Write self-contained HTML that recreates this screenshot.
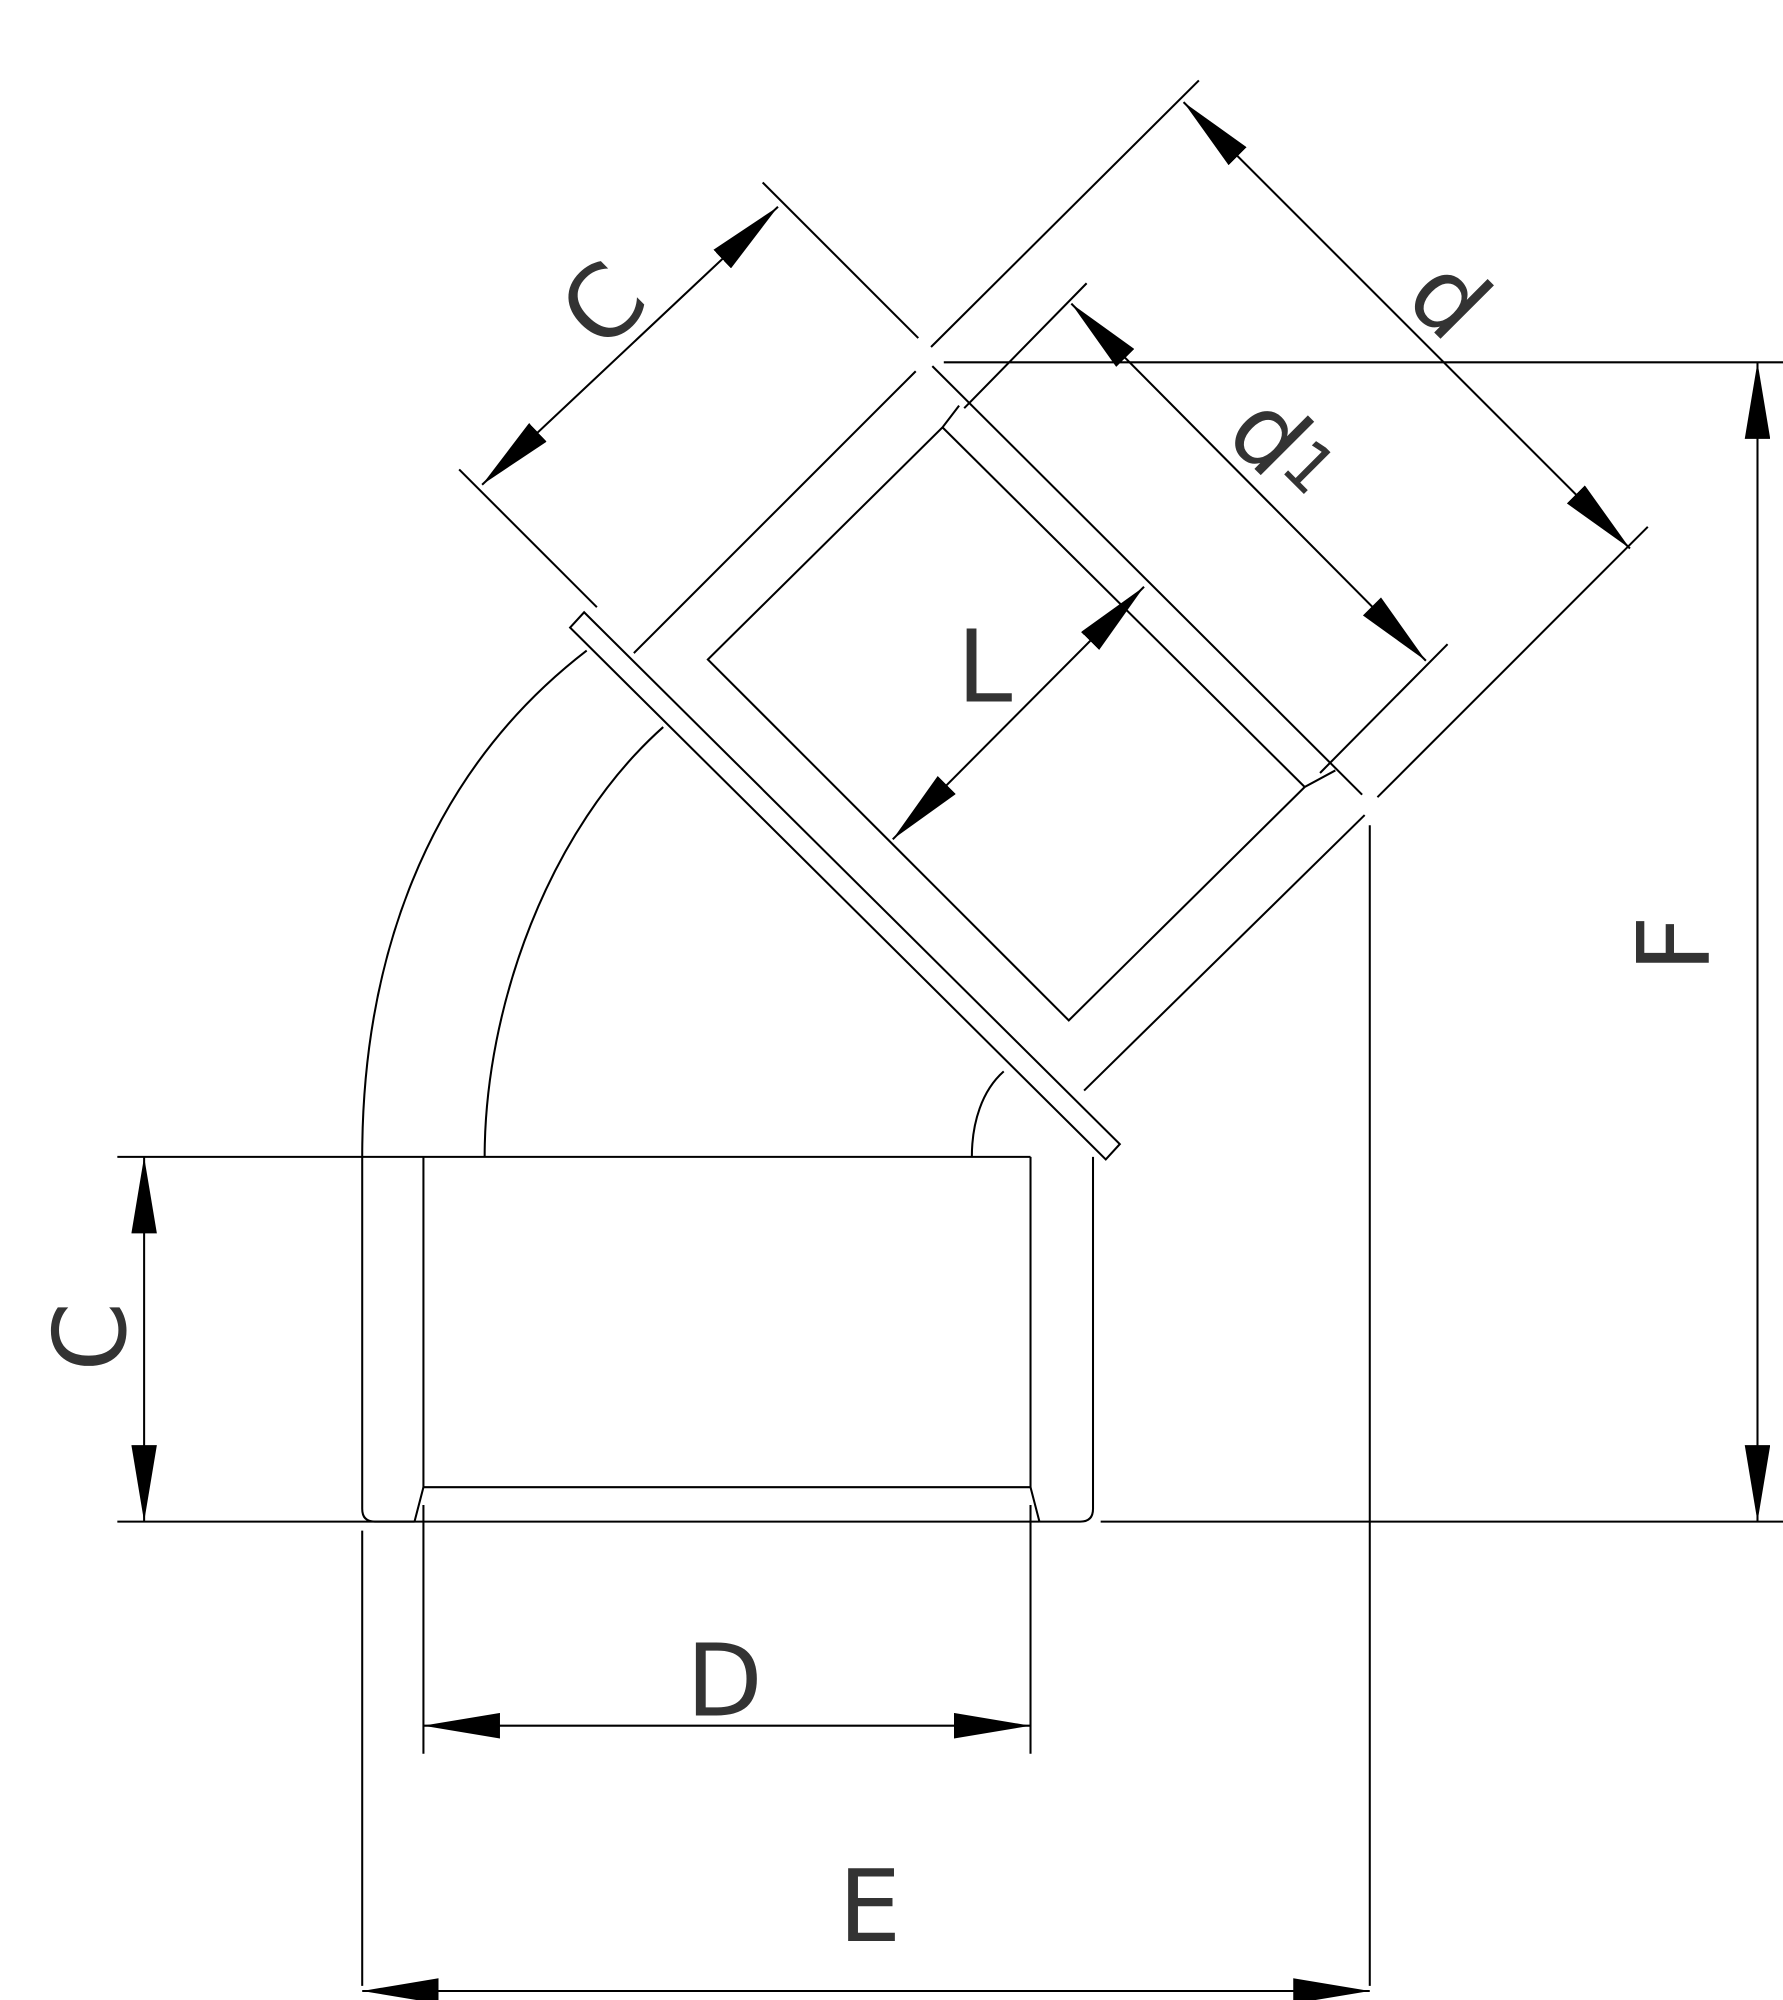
<!DOCTYPE html>
<html><head><meta charset="utf-8"><style>
html,body{margin:0;padding:0;background:#fff;}
svg{display:block}
text{font-family:"DejaVu Sans","Liberation Sans",sans-serif;fill:#333;font-size:78px}
</style></head><body>
<svg width="1783" height="2000" viewBox="0 0 1398 1568" xmlns="http://www.w3.org/2000/svg">
<defs>
<marker id="a" viewBox="0 0 60 20" refX="60" refY="10" markerWidth="60" markerHeight="20" markerUnits="userSpaceOnUse" orient="auto-start-reverse"><path d="M0,0 L60,10 L0,20 z" fill="#000"/></marker>
</defs>
<g stroke="#000" stroke-width="1.6" fill="none">
<!-- bottom socket -->
<path d="M284,907 L284,1183 Q284,1193 294,1193 L325,1193"/>
<path d="M857,907 L857,1183 Q857,1193 847,1193 L815,1193"/>
<path d="M332,907 L332,1166 L808,1166 L808,907"/>
<path d="M332,1166 L325,1193 M808,1166 L815,1193"/>
<path d="M325,1193 L815,1193"/>
<!-- extension lines -->
<path d="M92,907 L808,907"/>
<path d="M92,1193 L325,1193 M863,1193 L1398,1193"/>
<path d="M284,1200 L284,1557 M332,1180 L332,1375 M808,1180 L808,1375 M1074,647 L1074,1557"/>
<path d="M740,284 L1398,284"/>
<!-- elbow arcs -->
<path d="M284,907 C284,760 330,610 460,510"/>
<path d="M380,907 C380,790 430,650 520,570"/>
<path d="M762,907 C762,880 770,855 787,840"/>
<!-- flange -->
<path d="M447,492 L458,480 L878,897 L867,909 Z"/>
<!-- upper socket -->
<path d="M497,512 L718,291"/>
<path d="M850,855 L1070,639"/>
<path d="M731,287 L1068,623"/>
<path d="M752,318 L739,335 L555,517 L838,800 L1023,617 L1047,604"/>
<path d="M739,335 L1023,617"/>
<!-- diagonal extension lines -->
<path d="M360,368 L468,476"/>
<path d="M598,143 L720,265"/>
<path d="M730,272 L940,63"/>
<path d="M1080,625 L1292,413"/>
<path d="M756,320 L852,222"/>
<path d="M1035,606 L1135,505"/>
<!-- dimension arrows -->
<path d="M378,380 L610,162" marker-start="url(#a)" marker-end="url(#a)"/>
<path d="M928,80 L1278,430" marker-start="url(#a)" marker-end="url(#a)"/>
<path d="M840,238 L1118,518" marker-start="url(#a)" marker-end="url(#a)"/>
<path d="M700,658 L897,460" marker-start="url(#a)" marker-end="url(#a)"/>
<path d="M332,1353 L808,1353" marker-start="url(#a)" marker-end="url(#a)"/>
<path d="M284,1561 L1074,1561" marker-start="url(#a)" marker-end="url(#a)"/>
<path d="M1378,284 L1378,1193" marker-start="url(#a)" marker-end="url(#a)"/>
<path d="M113,907 L113,1193" marker-start="url(#a)" marker-end="url(#a)"/>
</g>
<text x="568" y="1345" text-anchor="middle">D</text>
<text x="682" y="1522" text-anchor="middle">E</text>
<text x="772" y="550" text-anchor="middle">L</text>
<text transform="translate(1340,740) rotate(-90)" text-anchor="middle">F</text>
<text transform="translate(98,1048) rotate(-90)" text-anchor="middle">C</text>
<text transform="translate(492,258) rotate(-45)" text-anchor="middle">C</text>
<text transform="translate(1117,253) rotate(45)" text-anchor="middle">d</text>
<text transform="translate(976,360) rotate(45)" text-anchor="middle">d</text>
<text transform="translate(1014,379) rotate(45)" text-anchor="middle" font-size="52" style="font-size:52px">1</text>
</svg>
</body></html>
